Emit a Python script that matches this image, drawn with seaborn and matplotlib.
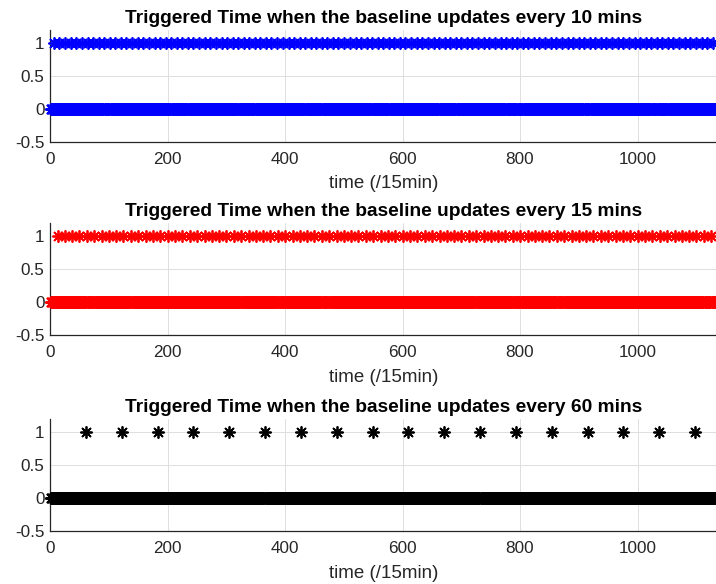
import numpy as np
import pandas as pd
import matplotlib
matplotlib.use("Agg")
import matplotlib.pyplot as plt
import seaborn as sns
from matplotlib.ticker import FuncFormatter

# ---- data ----
n_steps = 1135
time_steps = np.arange(1, n_steps + 1)

trig_10 = [7, 16, 26, 35, 45, 54, 64, 73, 83, 92, 102, 111, 121, 130, 140, 149, 159, 168,
           178, 187, 197, 206, 216, 225, 235, 244, 254, 263, 273, 282, 292, 301, 311, 320,
           330, 339, 349, 358, 368, 377, 387, 396, 406, 415, 425, 434, 444, 453, 463, 472,
           482, 491, 501, 510, 520, 529, 539, 548, 558, 567, 577, 586, 596, 605, 615, 624,
           634, 643, 653, 662, 672, 681, 691, 700, 710, 719, 729, 738, 748, 757, 767, 776,
           786, 795, 805, 814, 824, 833, 843, 852, 862, 871, 881, 890, 900, 909, 919, 928,
           938, 947, 957, 966, 976, 985, 995, 1004, 1014, 1023, 1033, 1042, 1052, 1061,
           1071, 1080, 1090, 1099, 1109, 1118, 1128]
trig_15 = [13, 25, 38, 50, 63, 75, 88, 100, 113, 125, 138, 150, 163, 175, 188, 200, 213,
           225, 238, 250, 263, 275, 288, 300, 313, 325, 338, 350, 363, 375, 388, 400, 413,
           425, 438, 450, 463, 475, 488, 500, 513, 525, 538, 550, 563, 575, 588, 600, 613,
           625, 638, 650, 663, 675, 688, 700, 713, 725, 738, 750, 763, 775, 788, 800, 813,
           825, 838, 850, 863, 875, 888, 900, 913, 925, 938, 950, 963, 975, 988, 1000,
           1013, 1025, 1038, 1050, 1063, 1075, 1088, 1100, 1113, 1125]
trig_60 = [61, 122, 183, 244, 305, 366, 427, 488, 549, 610, 671, 732, 793, 854, 915,
           976, 1037, 1098]

titles = ["Triggered Time when the baseline updates every 10 mins",
          "Triggered Time when the baseline updates every 15 mins",
          "Triggered Time when the baseline updates every 60 mins"]
colors = ["#0000ff", "#ff0000", "#000000"]
xticks = [0, 200, 400, 600, 800, 1000]
yticks = [-0.5, 0, 0.5, 1]
xlabel = "time (/15min)"

# ---- style ----
sns.set_style("white")
plt.rcParams["font.family"] = ["Liberation Sans", "DejaVu Sans"]

fig = plt.figure(figsize=(7.16, 5.84), dpi=100)
W, H = 716, 584
ax_tops = [30, 223.3, 419.3]
ax_h = 111.7
left = 50

dark = (0.15, 0.15, 0.15)
star = (8, 2, 0)

for top, trig, title, col in zip(ax_tops, [trig_10, trig_15, trig_60], titles, colors):
    ax = fig.add_axes([left / W, 1 - (top + ax_h) / H, (W - left) / W + 0.002, ax_h / H])
    flag = np.isin(time_steps, trig).astype(float)
    df = pd.DataFrame({"t": time_steps, "flag": flag})
    sns.scatterplot(data=df, x="t", y="flag", ax=ax, marker=star, color=col,
                    s=64, linewidth=1.3, clip_on=False, zorder=5, legend=False)
    ax.set_xlim(0, 1136)
    ax.set_ylim(-0.5, 1.2)
    ax.set_xticks(xticks)
    ax.set_yticks(yticks)
    ax.yaxis.set_major_formatter(FuncFormatter(lambda v, p: ("%g" % v)))
    ax.grid(True, color="#dfdfdf", linewidth=0.7)
    ax.set_axisbelow(True)
    for s in ["top", "right"]:
        ax.spines[s].set_visible(False)
    for s in ["left", "bottom"]:
        ax.spines[s].set_color(dark)
        ax.spines[s].set_linewidth(0.9)
    ax.tick_params(direction="in", length=4.8, width=0.8, color=dark,
                   labelcolor=dark, labelsize=12.3)
    ax.tick_params(axis="x", pad=7.5)
    ax.tick_params(axis="y", pad=4)
    ax.set_xlabel(xlabel, fontsize=13.5, color=dark, labelpad=6)
    ax.set_ylabel("")
    ax.set_title(title, fontsize=13.8, fontweight="bold", color="black", pad=5)

fig.savefig("out.png", dpi=100)
